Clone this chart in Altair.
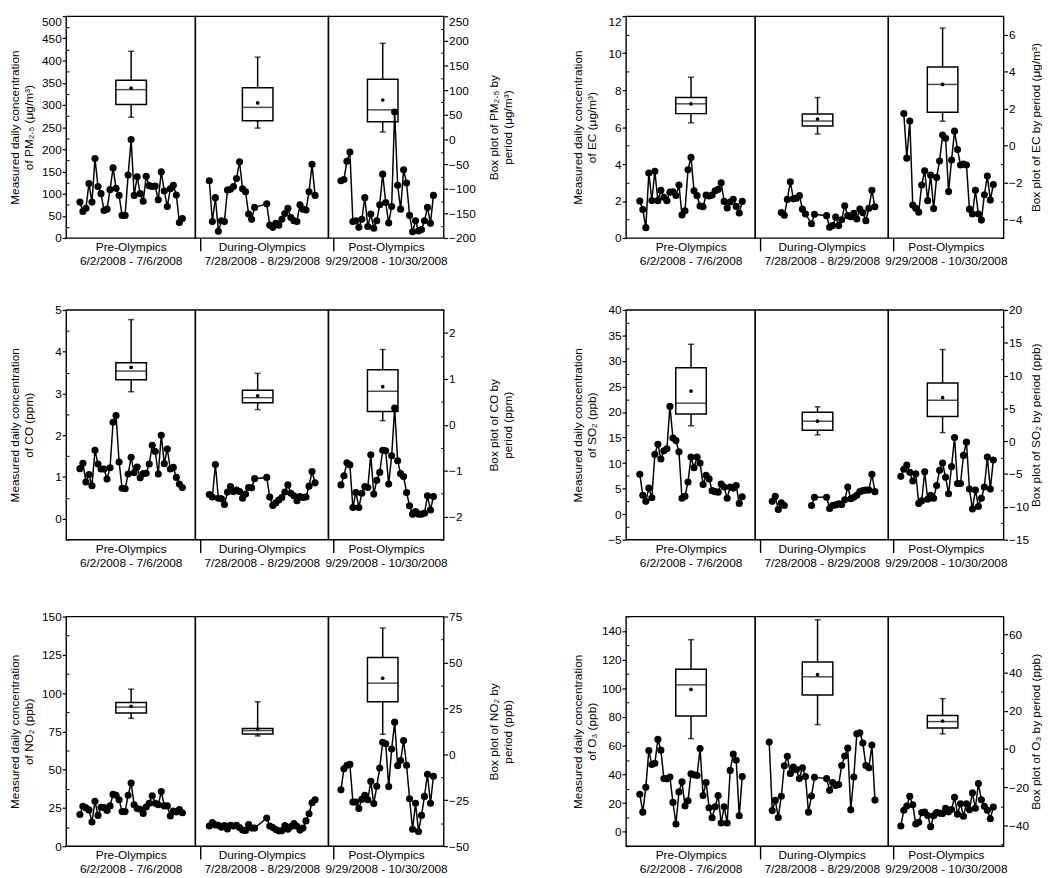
import altair as alt
import pandas as pd

FONT = "Liberation Sans, Arial, Helvetica, sans-serif"
INK = "black"

PERIODS = ["Pre", "During", "Post"]
PERIOD_LABELS = {
    "Pre": ["Pre-Olympics", "6/2/2008 - 7/6/2008"],
    "During": ["During-Olympics", "7/28/2008 - 8/29/2008"],
    "Post": ["Post-Olympics", "9/29/2008 - 10/30/2008"],
}
# x domain of each sub-panel in day-slot units, and sub-panel widths
SLOT_DOMAIN = {"Pre": [-2.93, 36.65], "During": [-3.02, 37.77], "Post": [-2.57, 32.78]}
SUB_WIDTH = {"Pre": 131, "During": 135, "Post": 117}
BOX_SLOT = {"Pre": 17.0, "During": 16.0, "Post": 14.0}
ROW_HEIGHT = [225, 233, 233]

# ---------------- daily measurements (None = no sample that day) ----------------
PM25_PRE = [81, 60, 67, 123, 81, 179, 116, 100, 62, 65, 109, 158, 112, 96, 51, 51, 142, 222,
            96, 138, 100, 83, 139, 118, 116, 117, 86, 149, 106, 71, 111, 119, 97, 35, 44]
PM25_DURING = [129, 37, 91, 15, 39, 37, 108, 110, 116, 134, 172, 111, 104, 54, 42, 69, None, None,
               None, 77, 29, 24, 33, 29, 42, 55, 67, 46, 39, 37, 75, 65, 63, 104, 166, 96]
PM25_POST = [129, 132, 173, 194, 37, 39, 24, 42, 91, 26, 54, 22, 39, 75, 144, 80, 34, 71, 284,
             119, 65, 154, 124, 51, 14, 39, 16, 19, 39, 69, 33, 96]

EC_PRE = [2.0, 1.54, 0.56, 3.52, 2.03, 3.61, 2.02, 2.58, 2.2, 2.02, 2.48, 2.5, 2.3, 2.87, 1.25,
          1.47, 3.69, 4.36, 2.55, 2.29, 1.73, 1.69, 2.32, 2.27, 2.32, 2.56, 2.63, 2.99, 1.98,
          1.62, 1.95, 2.1, 1.71, 1.35, 1.98]
EC_DURING = [None, None, None, None, 1.38, 1.23, 2.09, 3.04, 2.12, 2.15, 2.29, 1.56, 1.30, None,
             0.77, 1.28, None, None, None, 1.21, 0.58, 0.67, 1.13, 0.67, 0.99, 1.74, 1.21, 1.15,
             1.33, 1.03, 1.57, 1.37, 0.94, 1.61, 2.58, 1.69]
EC_POST = [None, 6.74, 4.32, 6.33, 1.78, 1.61, 1.40, 2.87, 3.64, 2.02, 3.40, 1.59, 3.28, 4.17,
           5.57, 5.40, 2.51, 4.22, 5.78, 4.79, 3.95, 4.0, 3.95, 1.56, 1.30, 2.58, 1.30, 0.97,
           2.34, 3.35, 2.05, 2.89]

CO_PRE = [1.20, 1.33, 0.88, 1.06, 0.79, 1.64, 1.31, 1.19, 1.19, 0.95, 1.22, 2.31, 2.47, 1.36,
          0.73, 0.72, 1.07, 1.47, 1.10, 1.24, 0.98, 1.08, 1.09, 1.31, 1.76, 1.61, 1.07, 2.00,
          1.32, 1.67, 1.19, 1.23, 0.99, 0.83, 0.75]
CO_DURING = [0.58, 0.52, 1.30, 0.49, 0.48, 0.34, 0.64, 0.77, 0.65, 0.69, 0.65, 0.49, 0.59, 0.75,
             0.74, 0.96, None, None, None, 0.99, 0.52, 0.32, 0.38, 0.45, 0.51, 0.64, 0.81, 0.61,
             0.55, 0.43, 0.53, 0.51, 0.52, 0.78, 1.13, 0.86]
CO_POST = [0.81, 1.03, 1.34, 1.29, 0.27, 0.63, 0.27, 0.61, 0.77, 0.75, 1.53, 0.59, 0.92, 1.11,
           1.64, 1.63, 0.83, 1.51, 2.65, 1.39, 1.08, 1.01, 0.63, 0.31, 0.11, 0.17, 0.11, 0.11,
           0.13, 0.55, 0.21, 0.53]

SO2_PRE = [7.8, 3.7, 2.5, 5.1, 3.2, 11.7, 13.7, 10.8, 12.4, 12.8, 21.1, 14.9, 14.4, 12.2, 3.1,
           3.5, 6.3, 11.2, 9.1, 11.2, 10.0, 5.8, 7.6, 6.9, 4.6, 4.4, 4.3, 5.9, 5.3, 3.1, 5.3,
           5.1, 5.6, 2.1, 3.4]
SO2_DURING = [None, 2.5, 3.5, 0.9, 2.2, 1.7, None, None, None, None, None, None, None, None,
              1.7, 3.3, None, None, None, 3.3, 1.1, 1.7, 1.8, 2.0, 1.9, 2.8, 5.3, 3.0, 3.3, 3.7,
              4.4, 4.6, 4.7, 4.7, 7.8, 4.4]
SO2_POST = [7.4, 8.8, 9.6, 8.2, 6.5, 7.9, 2.1, 2.6, 8.3, 2.9, 3.7, 3.1, 5.6, 8.6, 10.0, 7.2, 4.0,
            9.3, 15.0, 6.0, 6.0, 11.5, 14.1, 4.9, 1.0, 4.7, 1.5, 3.1, 5.3, 11.2, 4.9, 10.6]

NO2_PRE = [20.7, 26.1, 25.0, 23.7, 15.8, 29.3, 20.1, 25.4, 25.2, 23.3, 26.3, 33.8, 33.3, 30.3,
           22.6, 22.6, 33.3, 41.2, 27.1, 24.6, 24.1, 21.4, 25.6, 28.0, 32.9, 28.0, 27.1, 35.7,
           26.3, 26.3, 19.7, 22.9, 22.4, 23.9, 21.8]
NO2_DURING = [13.2, 15.4, 13.9, 13.7, 12.4, 13.5, 11.3, 13.7, 13.2, 13.7, 12.2, 10.5, 10.3, 14.1,
              11.8, 11.8, None, None, None, 18.4, 13.2, 12.2, 10.9, 10.0, 10.0, 13.5, 11.1,
              12.8, 14.7, 13.0, 10.5, 11.8, 16.5, 21.2, 28.4, 30.3]
NO2_POST = [36.8, 50.6, 52.8, 53.4, 28.8, 28.8, 24.6, 30.6, 33.3, 30.3, 42.3, 27.8, 39.1, 51.1,
            67.9, 66.9, 38.9, 63.5, 81.0, 52.6, 56.0, 69.0, 52.8, 31.0, 11.1, 28.0, 9.6, 20.1,
            32.5, 47.0, 28.0, 45.7]

O3_PRE = [26.2, 13.7, 31.0, 56.7, 46.9, 47.8, 64.4, 56.9, 37.1, 36.9, 38.2, 20.5, 5.5, 27.8,
          34.8, 18.0, 21.6, 40.5, 39.8, 39.2, 58.0, 25.3, 34.4, 16.8, 9.8, 17.5, 25.3, 6.1, 17.5,
          6.1, 42.8, 54.2, 49.9, 11.2, 38.5]
O3_DURING = [62.6, 14.8, 21.9, 10.0, 24.8, 46.0, 52.6, 40.7, 45.1, 43.3, 37.1, 44.6, 38.5, 13.7,
             25.0, 38.0, None, None, None, 37.1, 28.9, 34.4, 32.3, 33.0, 46.2, 52.8, 58.3, 15.3,
             38.2, 68.3, 69.0, 61.9, 46.2, 44.6, 60.5, 22.1]
O3_POST = [4.1, 15.0, 18.0, 24.8, 18.9, 5.5, 6.6, 13.4, 13.7, 11.4, 3.6, 11.2, 13.4, 13.0, 12.7,
           16.4, 13.9, 15.5, 24.1, 12.3, 19.6, 10.9, 19.6, 15.3, 27.1, 16.4, 33.7, 22.3, 17.8,
           15.0, 9.1, 17.3]

# ---------------- box plot statistics: [low whisker, Q1, median, Q3, high whisker, mean] ----------------
PM25_BOX = {"Pre": [45, 71, 101, 120, 179, 104], "During": [23, 38, 65, 105, 167, 74],
            "Post": [15, 36, 60, 122, 195, 80]}
EC_BOX = {"Pre": [1.23, 1.73, 2.26, 2.60, 3.70, 2.26], "During": [0.63, 1.06, 1.33, 1.71, 2.60, 1.44],
          "Post": [1.32, 1.80, 3.31, 4.25, 6.36, 3.31]}
CO_BOX = {"Pre": [0.72, 0.98, 1.17, 1.35, 2.29, 1.25], "During": [0.33, 0.48, 0.59, 0.75, 1.12, 0.63],
          "Post": [0.09, 0.29, 0.73, 1.20, 1.64, 0.83]}
SO2_BOX = {"Pre": [2.35, 4.15, 5.79, 11.18, 14.77, 7.64], "During": [0.96, 1.66, 3.05, 4.40, 5.24, 3.05],
           "Post": [1.31, 3.75, 6.24, 8.88, 13.97, 6.64]}
NO2_BOX = {"Pre": [19.6, 22.5, 25.7, 28.2, 35.5, 26.1], "During": [10.0, 11.1, 12.9, 14.1, 28.6, 13.9],
           "Post": [10.9, 28.6, 38.75, 52.7, 68.75, 41.4]}
O3_BOX = {"Pre": [5.4, 17.2, 33.5, 41.7, 57.1, 31.1], "During": [12.7, 28.2, 37.7, 45.4, 67.5, 38.8],
          "Post": [7.9, 11.0, 14.3, 17.5, 26.3, 14.6]}

PANELS = [
    dict(ltitle=["Measured daily concentration", "of PM\u2082.\u2085 (\u03bcg/m\u00b3)"],
         rtitle=["Box plot of PM\u2082.\u2085 by", "period (\u03bcg/m\u00b3)"],
         ldom=[0, 500], lticks=[0, 50, 100, 150, 200, 250, 300, 350, 400, 450, 500],
         lminor=[25, 75, 125, 175, 225, 275, 325, 375, 425, 475],
         rdom=[-200, 250], rticks=[-200, -150, -100, -50, 0, 50, 100, 150, 200, 250],
         rminor=[-175, -125, -75, -25, 25, 75, 125, 175, 225],
         daily={"Pre": PM25_PRE, "During": PM25_DURING, "Post": PM25_POST}, box=PM25_BOX,
         breaks={}, pull_top=True),
    dict(ltitle=["Measured daily concentration", "of EC (\u03bcg/m\u00b3)"],
         rtitle="Box plot of EC by period (\u03bcg/m\u00b3)",
         ldom=[0, 12], lticks=[0, 2, 4, 6, 8, 10, 12], lminor=[1, 3, 5, 7, 9, 11],
         rdom=[-5, 7], rticks=[-4, -2, 0, 2, 4, 6], rminor=[-5, -3, -1, 1, 3, 5, 7],
         daily={"Pre": EC_PRE, "During": EC_DURING, "Post": EC_POST}, box=EC_BOX,
         breaks={}, pull_top=True),
    dict(ltitle=["Measured daily concentration", "of CO (ppm)"],
         rtitle=["Box plot of CO by", "period (ppm)"],
         ldom=[-0.5, 5], lticks=[0, 1, 2, 3, 4, 5], lminor=[-0.5, 0.5, 1.5, 2.5, 3.5, 4.5],
         rdom=[-2.5, 2.5], rticks=[-2, -1, 0, 1, 2], rminor=[-2.5, -1.5, -0.5, 0.5, 1.5, 2.5],
         daily={"Pre": CO_PRE, "During": CO_DURING, "Post": CO_POST}, box=CO_BOX,
         breaks={}, pull_top=False),
    dict(ltitle=["Measured daily concentration", "of SO\u2082 (ppb)"],
         rtitle="Box plot of SO\u2082 by period (ppb)",
         ldom=[-5, 40], lticks=[-5, 0, 5, 10, 15, 20, 25, 30, 35, 40],
         lminor=[-2.5, 2.5, 7.5, 12.5, 17.5, 22.5, 27.5, 32.5, 37.5],
         rdom=[-15, 20], rticks=[-15, -10, -5, 0, 5, 10, 15, 20],
         rminor=[-12.5, -7.5, -2.5, 2.5, 7.5, 12.5, 17.5],
         daily={"Pre": SO2_PRE, "During": SO2_DURING, "Post": SO2_POST}, box=SO2_BOX,
         breaks={"During": [5]}, pull_top=False),
    dict(ltitle=["Measured daily concentration", "of NO\u2082 (ppb)"],
         rtitle=["Box plot of NO\u2082 by", "period (ppb)"],
         ldom=[0, 150], lticks=[0, 25, 50, 75, 100, 125, 150],
         lminor=[12.5, 37.5, 62.5, 87.5, 112.5, 137.5],
         rdom=[-50, 75], rticks=[-50, -25, 0, 25, 50, 75], rminor=[-37.5, -12.5, 12.5, 37.5, 62.5],
         daily={"Pre": NO2_PRE, "During": NO2_DURING, "Post": NO2_POST}, box=NO2_BOX,
         breaks={}, pull_top=False),
    dict(ltitle=["Measured daily concentration", "of O\u2083 (ppb)"],
         rtitle="Box plot of O\u2083 by period (ppb)",
         ldom=[-10, 150], lticks=[0, 20, 40, 60, 80, 100, 120, 140],
         lminor=[-10, 10, 30, 50, 70, 90, 110, 130, 150],
         rdom=[-50.8, 69.2], rticks=[-40, -20, 0, 20, 40, 60], rminor=[-50, -30, -10, 10, 30, 50],
         daily={"Pre": O3_PRE, "During": O3_DURING, "Post": O3_POST}, box=O3_BOX,
         breaks={}, pull_top=False),
]

# (left extent, left title pad, right extent, right title pad) per column
AXIS_EXTENT = {0: (26, 5, 25, 7), 1: (25, 3, 22, 5)}


def y_axis(orient, ticks, dom, title, ext, pad, pull_top):
    kw = dict(orient=orient, values=ticks, title=title, domain=False, grid=False,
              tickSize=4, tickWidth=1.2, tickColor=INK, labelPadding=1,
              labelFont=FONT, labelFontSize=12, labelColor=INK,
              titleFont=FONT, titleFontSize=12, titleFontWeight="normal", titleColor=INK,
              titleLineHeight=14, titleAngle=270,
              titleBaseline="bottom" if orient == "left" else "top",
              minExtent=ext, maxExtent=ext, titlePadding=pad)
    if pull_top and ticks[-1] >= dom[1]:
        kw["labelBaseline"] = {"condition": {"test": f"datum.value >= {ticks[-1]}", "value": "top"},
                               "value": "middle"}
    return alt.Axis(**kw)


def minor_axis(orient, values):
    return alt.Axis(orient=orient, values=values, title=None, labels=False, domain=False,
                    grid=False, ticks=True, tickSize=3, tickWidth=1, tickColor=INK, offset=-3)


def subpanel(p, col, period, height):
    dmin, dmax = SLOT_DOMAIN[period]
    xaxis = alt.Axis(title=PERIOD_LABELS[period], labels=False, domain=False, grid=False,
                     ticks=(period != "Pre"), values=[dmin], tickSize=13, tickWidth=1.4,
                     tickColor=INK, titleY=4, titleBaseline="top", titleFont=FONT,
                     titleFontSize=12, titleFontWeight="normal", titleColor=INK,
                     titleLineHeight=14)
    x = alt.X("slot:Q", scale=alt.Scale(domain=[dmin, dmax], nice=False, zero=False), axis=xaxis)
    lext, lpad, rext, rpad = AXIS_EXTENT[col]
    laxis = y_axis("left", p["lticks"], p["ldom"], p["ltitle"], lext, lpad, p["pull_top"]) \
        if period == "Pre" else None
    raxis = y_axis("right", p["rticks"], p["rdom"], p["rtitle"], rext, rpad, p["pull_top"]) \
        if period == "Post" else None
    lscale = alt.Scale(domain=p["ldom"], nice=False, zero=False)
    rscale = alt.Scale(domain=p["rdom"], nice=False, zero=False)

    def ry(f):
        return alt.Y(f"{f}:Q", scale=rscale, axis=raxis)

    b = p["box"][period]
    bdf = pd.DataFrame([{"slot": BOX_SLOT[period], "lo": b[0], "q1": b[1], "med": b[2],
                         "q3": b[3], "hi": b[4], "mean": b[5]}])
    bc = alt.Chart(bdf)
    whisk = bc.mark_rule(color=INK, strokeWidth=1.5).encode(x=x, y=ry("lo"), y2=alt.Y2("hi"))
    box = bc.mark_bar(size=31, fill="white", stroke=INK, strokeWidth=1.5).encode(
        x=x, y=ry("q1"), y2=alt.Y2("q3"))
    med = bc.mark_tick(orient="horizontal", size=31, thickness=1.5, color=INK).encode(x=x, y=ry("med"))
    cap_lo = bc.mark_tick(orient="horizontal", size=6, thickness=1.5, color=INK).encode(x=x, y=ry("lo"))
    cap_hi = bc.mark_tick(orient="horizontal", size=6, thickness=1.5, color=INK).encode(x=x, y=ry("hi"))
    mean = bc.mark_circle(size=14, color=INK, opacity=1).encode(x=x, y=ry("mean"))
    box_layer = alt.layer(whisk, box, med, cap_lo, cap_hi, mean)

    rows, seg = [], 0
    brk = p["breaks"].get(period, [])
    for i, v in enumerate(p["daily"][period]):
        if v is None:
            continue
        rows.append({"slot": i, "value": v, "seg": seg})
        if i in brk:
            seg += 1
    ddf = pd.DataFrame(rows)
    ly = alt.Y("value:Q", scale=lscale, axis=laxis)
    dc = alt.Chart(ddf)
    line = dc.mark_line(color=INK, strokeWidth=1.5).encode(x=x, y=ly, detail="seg:N")
    dots = dc.mark_circle(size=52, color=INK, opacity=1).encode(x=x, y=ly)
    daily_layer = alt.layer(line, dots)

    layers = [box_layer, daily_layer]
    if period == "Pre":
        layers.append(bc.mark_point(opacity=0).encode(
            x=x, y=alt.Y("q1:Q", scale=lscale, axis=minor_axis("left", p["lminor"]))))
    if period == "Post":
        layers.append(bc.mark_point(opacity=0).encode(
            x=x, y=alt.Y("q1:Q", scale=rscale, axis=minor_axis("right", p["rminor"]))))

    return alt.layer(*layers).resolve_scale(y="independent").properties(
        width=SUB_WIDTH[period], height=height)


def panel(idx):
    col = idx % 2
    h = ROW_HEIGHT[idx // 2]
    return alt.hconcat(*[subpanel(PANELS[idx], col, per, h) for per in PERIODS],
                       spacing=0, bounds="flush")


row1 = alt.hconcat(panel(0), panel(1), spacing=57)
row2 = alt.hconcat(panel(2), panel(3), spacing=57)
row3 = alt.hconcat(panel(4), panel(5), spacing=57)

chart = alt.vconcat(row1, alt.vconcat(row2, row3, spacing=41), spacing=36).properties(
    padding={"left": 0, "top": 0, "right": 0, "bottom": 0},
    autosize=alt.AutoSizeParams(type="pad"),
    background="white",
).configure(font=FONT).configure_view(stroke=INK, strokeWidth=1.4)

chart.save("out.html", embed_options={"renderer": "svg", "actions": False})
